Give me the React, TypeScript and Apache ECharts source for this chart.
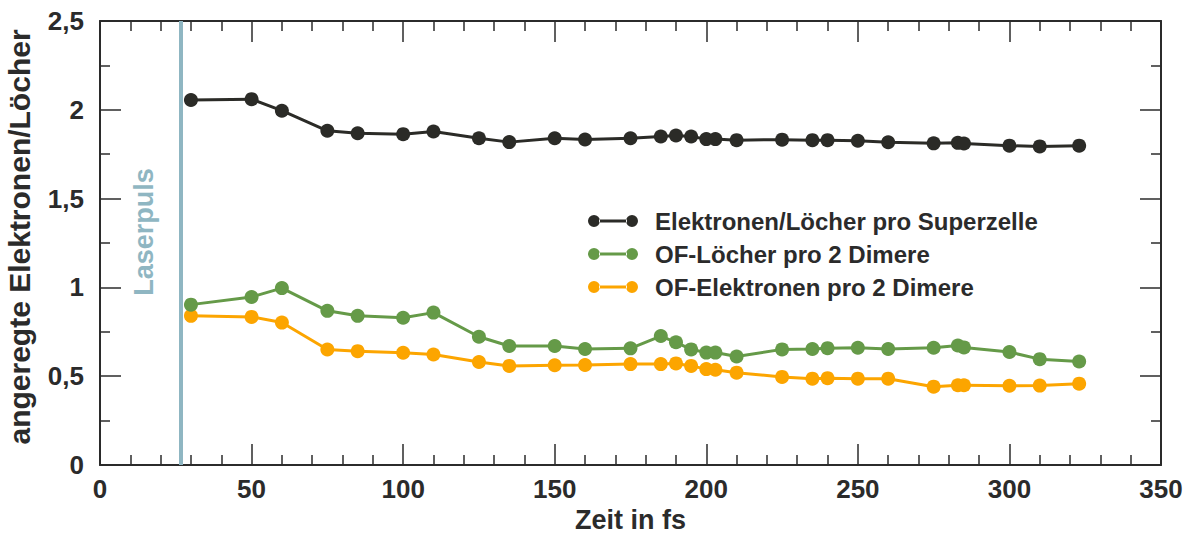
import React, { useEffect, useRef } from "react";
import * as echarts from "echarts";

const timesBlack = [30, 50, 60, 75, 85, 100, 110, 125, 135, 150, 160, 175, 185, 190, 195, 200, 203, 210, 225, 235, 240, 250, 260, 275, 283, 285, 300, 310, 323];
const valuesBlack = [2.055, 2.06, 1.995, 1.882, 1.868, 1.863, 1.878, 1.84, 1.818, 1.84, 1.833, 1.84, 1.85, 1.855, 1.85, 1.835, 1.835, 1.829, 1.832, 1.829, 1.829, 1.826, 1.817, 1.811, 1.814, 1.81, 1.798, 1.794, 1.798];

const timesGreen = [30, 50, 60, 75, 85, 100, 110, 125, 135, 150, 160, 175, 185, 190, 195, 200, 203, 210, 225, 235, 240, 250, 260, 275, 283, 285, 300, 310, 323];
const valuesGreen = [0.903, 0.946, 0.996, 0.868, 0.84, 0.829, 0.858, 0.722, 0.67, 0.67, 0.653, 0.657, 0.726, 0.691, 0.651, 0.633, 0.633, 0.611, 0.651, 0.653, 0.658, 0.66, 0.653, 0.66, 0.673, 0.662, 0.636, 0.596, 0.583];

const timesOrange = [30, 50, 60, 75, 85, 100, 110, 125, 135, 150, 160, 175, 185, 190, 195, 200, 203, 210, 225, 235, 240, 250, 260, 275, 283, 285, 300, 310, 323];
const valuesOrange = [0.84, 0.834, 0.802, 0.65, 0.641, 0.632, 0.622, 0.58, 0.558, 0.562, 0.563, 0.568, 0.568, 0.572, 0.558, 0.54, 0.536, 0.52, 0.496, 0.486, 0.489, 0.486, 0.486, 0.441, 0.449, 0.449, 0.446, 0.447, 0.458];

const seriesNames = [
  "Elektronen/Löcher pro Superzelle",
  "OF-Löcher pro 2 Dimere",
  "OF-Elektronen pro 2 Dimere",
];
const seriesColors = ["#2b2b27", "#659a48", "#fca500"];
const laserTime = 26.5;
const laserLabel = "Laserpuls";
const xTitle = "Zeit in fs";
const yTitle = "angeregte Elektronen/Löcher";

const zip = (t: number[], v: number[]) => t.map((x, i) => [x, v[i]]);

const FONT = "'Liberation Sans', Arial, Helvetica, sans-serif";
const AX = "#2b2b2b";
const LEGEND_ICON =
  "path://M0,6 A6,6 0 1,0 12,6 A6,6 0 1,0 0,6 Z M38,6 A6,6 0 1,0 50,6 A6,6 0 1,0 38,6 Z M11,4.6 L39,4.6 L39,7.4 L11,7.4 Z";

export default function App() {
  const ref = useRef<HTMLDivElement>(null);
  useEffect(() => {
    if (!ref.current) return;
    const chart = echarts.init(ref.current, null, { renderer: "svg" });
    const fmt = (v: number) => String(v).replace(".", ",");
    const xBase = {
      type: "value",
      min: 0,
      max: 350,
      interval: 50,
      minorTick: { show: true, splitNumber: 5, length: 10, lineStyle: { color: AX, width: 1.5 } },
      axisTick: { show: true, inside: true, length: 21, lineStyle: { color: AX, width: 1.5 } },
      axisLine: { show: true, onZero: false, lineStyle: { color: AX, width: 2 } },
      splitLine: { show: false },
    };
    const yBase = {
      type: "value",
      min: 0,
      max: 2.5,
      interval: 0.5,
      minorTick: { show: true, splitNumber: 2, length: 10, lineStyle: { color: AX, width: 1.5 } },
      axisTick: { show: true, inside: true, length: 21, lineStyle: { color: AX, width: 1.5 } },
      axisLine: { show: true, onZero: false, lineStyle: { color: AX, width: 2 } },
      splitLine: { show: false },
    };
    const mkSeries = (i: number, data: number[][]) => ({
      name: seriesNames[i],
      type: "line",
      data,
      symbol: "circle",
      symbolSize: 14,
      color: seriesColors[i],
      lineStyle: { width: 3, color: seriesColors[i] },
      itemStyle: { color: seriesColors[i] },
      z: 5 - i,
    });
    const s0: any = mkSeries(0, zip(timesBlack, valuesBlack));
    s0.markLine = {
      silent: true,
      symbol: ["none", "none"],
      label: { show: false },
      lineStyle: { color: "#8fb6c2", width: 4, type: "solid" },
      data: [{ xAxis: laserTime }],
    };
    chart.setOption({
      animation: false,
      backgroundColor: "#ffffff",
      grid: { left: 100, right: 34, top: 21, bottom: 69, containLabel: false, outerBoundsMode: "none" },
      xAxis: [
        {
          ...xBase,
          position: "bottom",
          name: xTitle,
          nameLocation: "middle",
          nameGap: 34,
          nameTextStyle: { fontFamily: FONT, fontWeight: "bold", fontSize: 27, color: AX },
          axisLabel: { show: true, margin: 11, fontFamily: FONT, fontWeight: "bold", fontSize: 26, color: AX, formatter: fmt },
        },
        { ...xBase, position: "top", axisLabel: { show: false } },
      ],
      yAxis: [
        {
          ...yBase,
          position: "left",
          name: yTitle,
          nameLocation: "middle",
          nameGap: 66,
          nameTextStyle: { fontFamily: FONT, fontWeight: "bold", fontSize: 30, color: AX, padding: [0, 0, 0, 12] },
          axisLabel: { show: true, margin: 16, fontFamily: FONT, fontWeight: "bold", fontSize: 26, color: AX, formatter: fmt },
        },
        { ...yBase, position: "right", axisLabel: { show: false } },
      ],
      legend: {
        show: true,
        orient: "vertical",
        left: 583,
        top: 204,
        itemWidth: 54,
        itemHeight: 12,
        itemGap: 9,
        icon: LEGEND_ICON,
        textStyle: { fontFamily: FONT, fontWeight: "bold", fontSize: 24, color: AX, padding: [0, 0, 0, 10] },
        data: seriesNames,
      },
      graphic: [
        {
          type: "text",
          x: 144,
          y: 232,
          rotation: Math.PI / 2,
          style: {
            text: laserLabel,
            fontFamily: FONT,
            fontSize: 27,
            fontWeight: "bold",
            fill: "#8fb6c2",
            align: "center",
            verticalAlign: "middle",
          },
        },
      ],
      series: [s0, mkSeries(1, zip(timesGreen, valuesGreen)), mkSeries(2, zip(timesOrange, valuesOrange))],
    });
    return () => chart.dispose();
  }, []);
  return <div ref={ref} style={{ position: "fixed", left: 0, top: 0, width: 1195, height: 534 }} />;
}
